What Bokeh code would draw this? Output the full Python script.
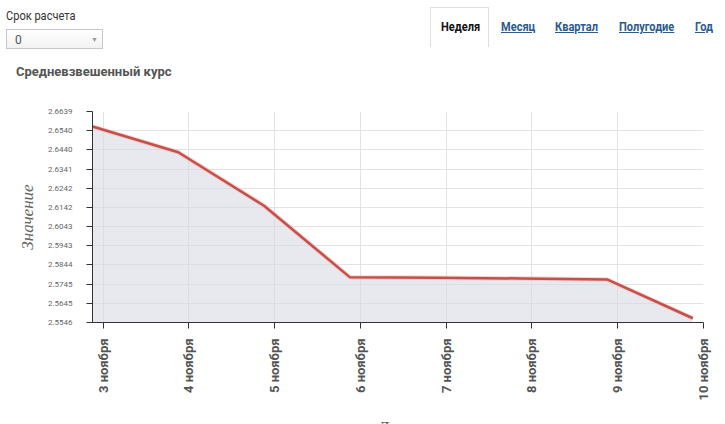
import numpy as np
import pandas as pd
from bokeh.plotting import figure
from bokeh.layouts import column
from bokeh.models import Range1d, FixedTicker, NumeralTickFormatter, Div
from bokeh.embed import file_html
from bokeh.resources import INLINE

# ---------------- data ----------------
year = 2020
days = [3, 4, 5, 6, 7, 8, 9, 10]
rate = [2.6561, 2.6428, 2.6151, 2.5781, 2.5778, 2.5774, 2.5769, 2.5568]
y_ticks = [2.5546, 2.5645, 2.5745, 2.5844, 2.5943, 2.6043,
           2.6142, 2.6242, 2.6341, 2.6440, 2.6540, 2.6639]
x_tick_labels = ["3 ноября", "4 ноября", "5 ноября", "6 ноября",
                 "7 ноября", "8 ноября", "9 ноября", "10 ноября"]
tabs = ["Неделя", "Месяц", "Квартал", "Полугодие", "Год"]
period_label = "Срок расчета"
period_value = "0"
chart_title = "Средневзвешенный курс"
y_title = "Значение"
x_title = "Дата"

# local (Minsk) midnight -> UTC
local_dates = pd.to_datetime([f"{year}-11-{d:02d}" for d in days])
xs = local_dates.tz_localize("Europe/Minsk").tz_convert("UTC").tz_localize(None)
tick_ms = [float(pd.Timestamp(f"{year}-11-{d:02d}").value // 10**6) for d in days]
x_end = pd.Timestamp(f"{year}-11-{days[-1]:02d}")

W = 725
COND = "display:inline-block;transform:scaleX(0.85);transform-origin:0 50%;white-space:nowrap;"

# ---------------- header (HTML widgets) ----------------
tab_left = [441, 501, 555, 619, 695]
tab_html = ""
for i, t in enumerate(tabs):
    if i == 0:
        style = "color:#111;text-decoration:none;"
    else:
        style = "color:#2d5b8c;text-decoration:underline;"
    tab_html += (f'<span style="position:absolute;left:{tab_left[i]}px;top:19px;'
                 f'font-size:13px;line-height:15px;font-weight:bold;{COND}{style}">{t}</span>')

header_html = f'''
<div style="position:relative;width:{W}px;height:103px;font-family:Roboto,sans-serif;background:#fff;">
  <span style="position:absolute;left:6px;top:8px;font-size:13px;line-height:15px;
               color:#333;{COND}">{period_label}</span>
  <div style="position:absolute;left:6px;top:29px;width:97px;height:20px;border:1px solid #c8c8c8;
              background:linear-gradient(#ffffff,#f2f2f2);"></div>
  <span style="position:absolute;left:15px;top:33px;font-size:12px;line-height:14px;color:#555;">{period_value}</span>
  <span style="position:absolute;left:91px;top:36px;font-size:7px;line-height:9px;color:#999;">&#9660;</span>
  <span style="position:absolute;left:16px;top:64px;font-size:13px;line-height:15px;font-weight:bold;
               color:#555;white-space:nowrap;">{chart_title}</span>
  <div style="position:absolute;left:430px;top:7px;width:59px;height:40px;border:1px solid #e0e0e0;
              border-bottom:none;background:linear-gradient(#ffffff 70%,rgba(255,255,255,0));"></div>
  {tab_html}
</div>
'''
header = Div(text=header_html, width=W, height=103, margin=0)

# ---------------- chart ----------------
p = figure(width=W, height=339, x_axis_type="datetime",
           x_range=Range1d(xs[0], x_end), y_range=Range1d(y_ticks[0], y_ticks[-1]),
           toolbar_location=None, output_backend="svg",
           min_border_left=92, min_border_right=22, min_border_top=8, min_border_bottom=120)
p.outline_line_color = None
p.background_fill_color = "white"
p.border_fill_color = "white"

p.varea(x=xs, y1=y_ticks[0], y2=rate, fill_color="#d9dbe4", fill_alpha=0.6)
p.line(xs, rate, line_color="#f2b7b2", line_width=4.5, line_alpha=0.6)
p.line(xs, rate, line_color="#c4504b", line_width=2.5)

p.xaxis.ticker = FixedTicker(ticks=tick_ms)
p.xaxis.major_label_overrides = {t: lab for t, lab in zip(tick_ms, x_tick_labels)}
p.xaxis.major_label_orientation = np.pi / 2
p.xaxis.major_label_text_font = "Roboto"
p.xaxis.major_label_text_font_style = "bold"
p.xaxis.major_label_text_font_size = "13px"
p.xaxis.major_label_text_color = "#555555"
p.xaxis.major_label_standoff = 10
p.xaxis.axis_label = x_title
p.xaxis.axis_label_text_font = "Liberation Serif"
p.xaxis.axis_label_text_font_style = "italic"
p.xaxis.axis_label_text_font_size = "17px"
p.xaxis.axis_label_text_color = "#666666"
p.xaxis.axis_label_standoff = 14

p.yaxis.ticker = FixedTicker(ticks=y_ticks)
p.yaxis.formatter = NumeralTickFormatter(format="0.0000")
p.yaxis.major_label_text_font = "Roboto"
p.yaxis.major_label_text_font_size = "8px"
p.yaxis.major_label_text_color = "#666666"
p.yaxis.major_label_standoff = 14
p.yaxis.axis_label = y_title
p.yaxis.axis_label_text_font = "Liberation Serif"
p.yaxis.axis_label_text_font_style = "italic"
p.yaxis.axis_label_text_font_size = "17px"
p.yaxis.axis_label_text_color = "#666666"
p.yaxis.axis_label_standoff = 8

for ax in (p.xaxis, p.yaxis):
    ax.axis_line_color = "#333333"
    ax.major_tick_line_color = "#333333"
    ax.major_tick_out = 6
    ax.major_tick_in = 0
    ax.minor_tick_line_color = None

p.grid.grid_line_color = "#e3e3e3"
p.xgrid.ticker = FixedTicker(ticks=tick_ms)
p.ygrid.ticker = FixedTicker(ticks=y_ticks)

layout = column(header, p, spacing=0)
open("out.html", "w").write(file_html(layout, INLINE))
